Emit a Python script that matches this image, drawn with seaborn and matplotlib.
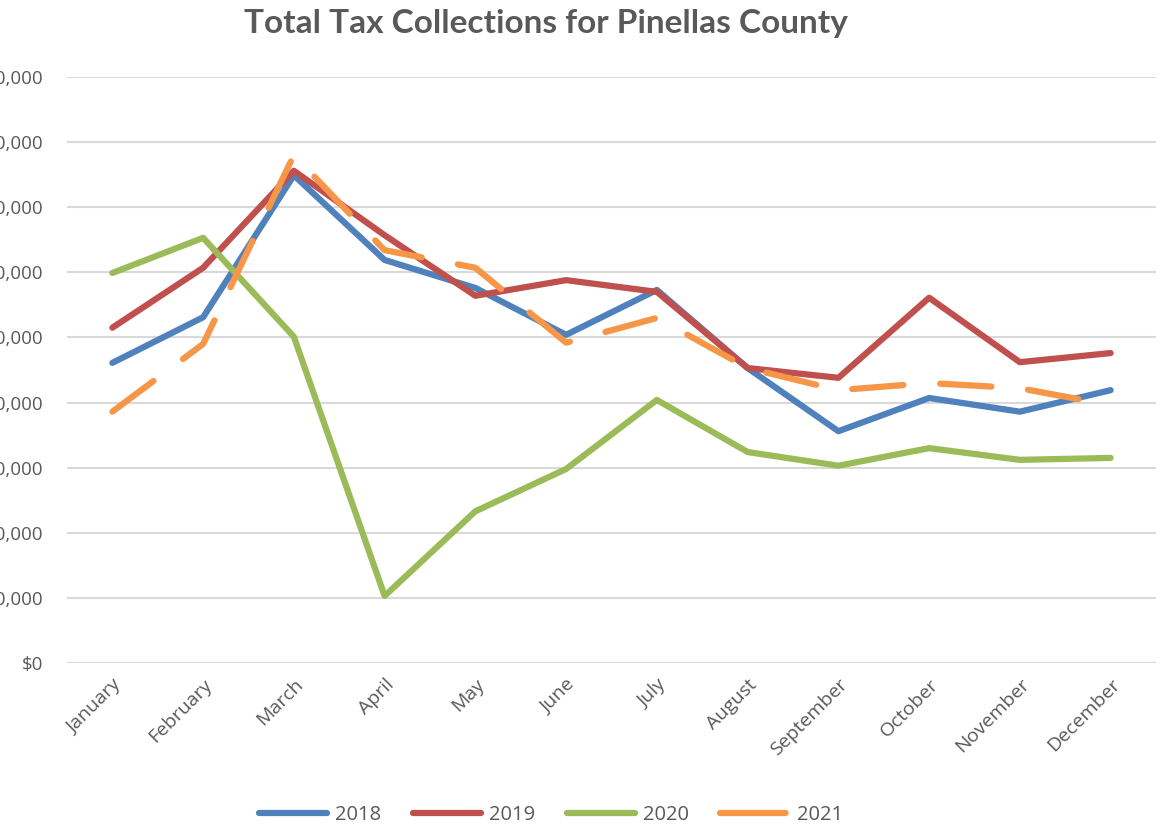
import pandas as pd
import matplotlib.pyplot as plt
import seaborn as sns
from matplotlib.lines import Line2D

# Monthly values (millions of dollars)
months = ['January', 'February', 'March', 'April', 'May', 'June', 'July',
          'August', 'September', 'October', 'November', 'December']
y2018 = [4.61, 5.31, 7.49, 6.19, 5.76, 5.04, 5.73, 4.53, 3.56, 4.07, 3.86, 4.19]
y2019 = [5.15, 6.07, 7.56, 6.57, 5.64, 5.88, 5.70, 4.53, 4.38, 5.61, 4.62, 4.76]
y2020 = [5.99, 6.53, 5.01, 1.03, 2.33, 2.98, 4.04, 3.24, 3.03, 3.30, 3.12, 3.15]
y2021 = [3.86, 4.90, 7.80, 6.34, 6.07, 4.92, 5.30, 4.53, 4.19, 4.30, 4.22, 3.96]
years = ['2018', '2019', '2020', '2021']
colors = ['#4f81bd', '#c0504d', '#9bbb59', '#f79646']
ytick_labels = ['$0', '$1,000,000', '$2,000,000', '$3,000,000', '$4,000,000',
                '$5,000,000', '$6,000,000', '$7,000,000', '$8,000,000', '$9,000,000']

# Long-form table for seaborn
frames = []
for yr, vals in zip(years, [y2018, y2019, y2020, y2021]):
    frames.append(pd.DataFrame({'Month': months, 'Value': vals, 'Year': yr}))
df = pd.concat(frames, ignore_index=True)

sns.set_style('white')
plt.rcParams['font.family'] = ['Open Sans', 'DejaVu Sans']
plt.rcParams['lines.solid_capstyle'] = 'round'
plt.rcParams['lines.dash_capstyle'] = 'round'
plt.rcParams['lines.solid_joinstyle'] = 'round'
plt.rcParams['lines.dash_joinstyle'] = 'round'

gray = '#595959'
fig = plt.figure(figsize=(11.68, 8.27), dpi=100)
ax = fig.add_axes([67 / 1168, 1 - 663 / 827, (1156 - 67) / 1168, (663 - 77) / 827])

sns.lineplot(data=df, x='Month', y='Value', hue='Year', style='Year',
             palette=dict(zip(years, colors)),
             dashes={'2018': '', '2019': '', '2020': '', '2021': (8.2, 5.9)},
             linewidth=4.5, sort=False, ax=ax, legend=False)

ax.set_xlim(-0.5, 11.5)
ax.set_ylim(0, 9)
ax.set_yticks(range(10))
ax.set_yticklabels(ytick_labels)
ax.yaxis.grid(True, color='#d9d9d9', linewidth=1.5)
ax.set_axisbelow(True)
for s in ax.spines.values():
    s.set_visible(False)
ax.axhline(0, color='#d9d9d9', linewidth=1.5, zorder=0)
ax.tick_params(axis='y', length=0, pad=17, labelsize=13.5, labelcolor=gray)
ax.tick_params(axis='x', length=0, pad=9, labelsize=14, labelcolor=gray)
plt.setp(ax.get_xticklabels(), rotation=45, ha='right', rotation_mode='anchor')
ax.set_xlabel('')
ax.set_ylabel('')

fig.text(546 / 1168, 1 - 23 / 827, 'Total Tax Collections for Pinellas County',
         ha='center', va='center', fontsize=24, fontweight='bold', color=gray,
         family=['Lato', 'DejaVu Sans'])

# Legend
handles = [Line2D([], [], color=c, linewidth=4.5,
                  linestyle=(0, (10.5, 5.9)) if yr == '2021' else '-')
           for yr, c in zip(years, colors)]
leg = fig.legend(handles, years, loc='center', bbox_to_anchor=(551 / 1168, 1 - 815 / 827),
                 ncol=4, frameon=False, fontsize=14.5, handlelength=3.4,
                 handletextpad=0.4, columnspacing=1.55)
for t in leg.get_texts():
    t.set_color(gray)

plt.savefig('out.png', dpi=100)
